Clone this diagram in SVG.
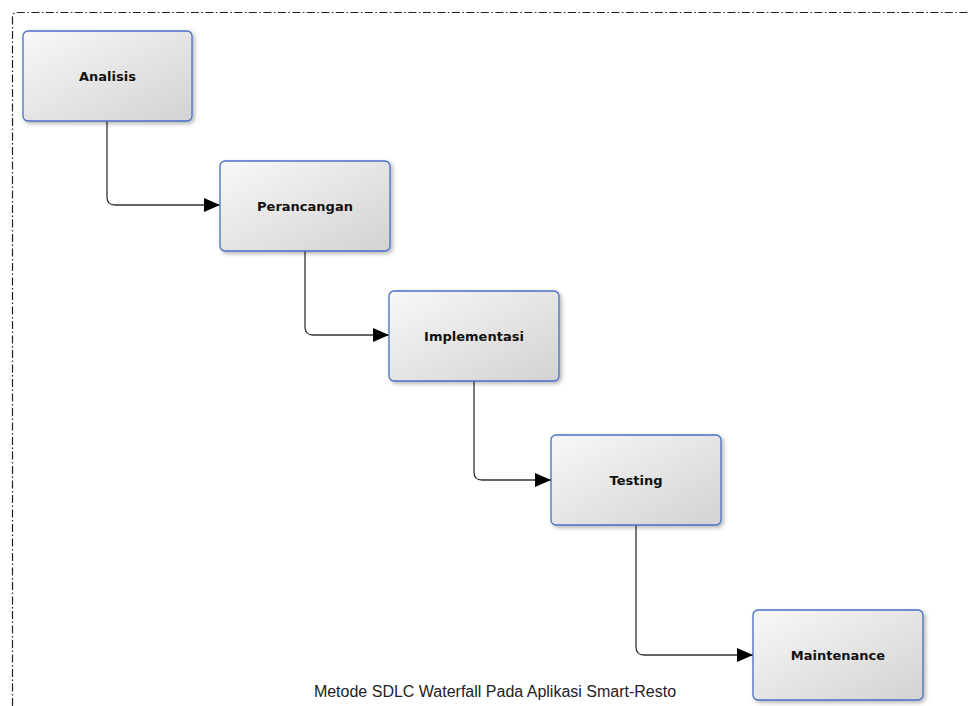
<svg xmlns="http://www.w3.org/2000/svg" width="969" height="706" viewBox="0 0 969 706">
<style>
.node rect{fill:url(#g);stroke:#4a6fc4;stroke-width:1.3;filter:url(#sh)}
.node text{font-family:"DejaVu Sans",sans-serif;font-weight:bold;font-size:13px;fill:#111;text-anchor:middle;dominant-baseline:central}
.conn path{fill:none;stroke:#333;stroke-width:1.3;marker-end:url(#ah)}
.frame{fill:none;stroke:#222;stroke-width:1.2;stroke-dasharray:8 2.5 1.5 2.5}
.caption{font-family:"Liberation Sans",Arial,sans-serif;font-size:16px;fill:#222;text-anchor:middle}
</style>
<defs>
<linearGradient id="g" x1="0" y1="0" x2="1" y2="1">
<stop offset="0" stop-color="#f8f8f8"/>
<stop offset="1" stop-color="#d2d2d2"/>
</linearGradient>
<filter id="sh" x="-10%" y="-10%" width="130%" height="140%">
<feDropShadow dx="2" dy="2" stdDeviation="2" flood-color="#000" flood-opacity="0.3"/>
</filter>
<marker id="ah" markerUnits="userSpaceOnUse" markerWidth="16" markerHeight="16" refX="16" refY="8" orient="auto">
<path d="M0,1 L16,8 L0,15 Z" fill="#000"/>
</marker>
</defs>
<rect width="969" height="706" fill="#fff"/>
<path class="frame" d="M12.5 706 V17 Q12.5 12.5 17 12.5 H969"/>
<g class="conn" id="connectors">
<path d="M107 121 V197 Q107 205 115 205 H220"/>
<path d="M305 251 V327 Q305 335 313 335 H389"/>
<path d="M474 381 V472 Q474 480 482 480 H551"/>
<path d="M636 525 V647 Q636 655 644 655 H753"/>
</g>
<g class="node" id="analisis"><rect x="23" y="31" width="169" height="90" rx="5"/><text x="107.5" y="76">Analisis</text></g>
<g class="node" id="perancangan"><rect x="220" y="161" width="170" height="90" rx="5"/><text x="305" y="206">Perancangan</text></g>
<g class="node" id="implementasi"><rect x="389" y="291" width="170" height="90" rx="5"/><text x="474" y="336">Implementasi</text></g>
<g class="node" id="testing"><rect x="551" y="435" width="170" height="90" rx="5"/><text x="636" y="480">Testing</text></g>
<g class="node" id="maintenance"><rect x="753" y="610" width="170" height="90" rx="5"/><text x="838" y="655">Maintenance</text></g>
<text class="caption" x="495" y="697">Metode SDLC Waterfall Pada Aplikasi Smart-Resto</text>
</svg>
